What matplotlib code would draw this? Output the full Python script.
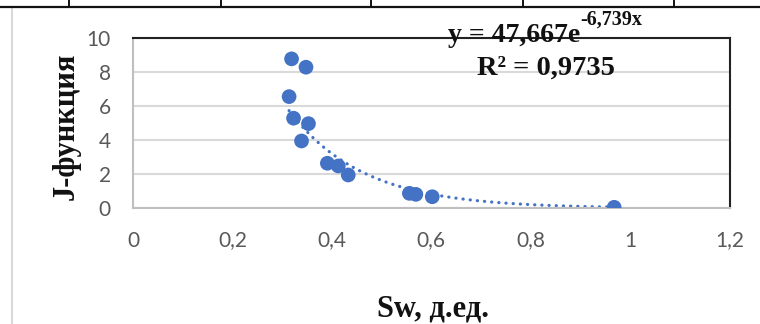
import numpy as np
import matplotlib
matplotlib.use("Agg")
import matplotlib.pyplot as plt
from matplotlib.lines import Line2D

# Data
sw = [0.319, 0.348, 0.314, 0.323, 0.353, 0.339, 0.391, 0.413, 0.433, 0.556, 0.569, 0.602, 0.968]
jfunc = [8.79, 8.30, 6.57, 5.30, 4.98, 3.96, 2.65, 2.49, 1.96, 0.88, 0.82, 0.68, 0.06]
trend_a = 47.667
trend_b = -6.739
x_ticks = [0, 0.2, 0.4, 0.6, 0.8, 1.0, 1.2]
x_tick_labels = ["0", "0,2", "0,4", "0,6", "0,8", "1", "1,2"]
y_ticks = [0, 2, 4, 6, 8, 10]
y_tick_labels = ["0", "2", "4", "6", "8", "10"]

W, H = 760, 324
fig = plt.figure(figsize=(W / 100, H / 100), dpi=100)

def fx(px):
    return px / W

def fy(py):
    return 1 - py / H

ax = fig.add_axes([fx(133), fy(208.3), fx(729.5) - fx(133), fy(38.3) - fy(208.3)])
ax.set_xlim(0, 1.2)
ax.set_ylim(0, 10)

blue = "#4472C4"
# trendline from the displayed equation
xs = np.linspace(min(sw), max(sw), 200)
ax.plot(xs, trend_a * np.exp(trend_b * xs), color=blue, lw=2.3,
        linestyle=(0, (0.05, 2.2)), dash_capstyle="round", zorder=2)
ax.scatter(sw, jfunc, s=112, color=blue, zorder=3, edgecolors="none")

ax.set_xticks(x_ticks)
ax.set_xticklabels(x_tick_labels)
ax.set_yticks(y_ticks)
ax.set_yticklabels(y_tick_labels)
ax.tick_params(length=0, labelsize=15, labelcolor="#595959")
ax.tick_params(axis="x", pad=16)
ax.tick_params(axis="y", pad=16)
for lab in ax.get_xticklabels() + ax.get_yticklabels():
    lab.set_family("Lato")

ax.grid(axis="y", color="#d9d9d9", lw=1.5, zorder=0)
ax.set_axisbelow(True)
for side in ["top", "right"]:
    ax.spines[side].set_color("#222222")
    ax.spines[side].set_linewidth(1.5)
for side in ["left", "bottom"]:
    ax.spines[side].set_color("#bfbfbf")
    ax.spines[side].set_linewidth(1.5)

serif = ["Liberation Serif", "DejaVu Serif"]

fig.text(fx(580), fy(41.7), "y = 47,667e", ha="right", va="baseline",
         family=serif, weight="bold", fontsize=20, color="#111111")
fig.text(fx(580), fy(25), "-6,739x", ha="left", va="baseline",
         family=serif, weight="bold", fontsize=14.5, color="#111111")
fig.text(fx(546), fy(75), "R² = 0,9735", ha="center", va="baseline",
         family=serif, weight="bold", fontsize=20.5, color="#111111")

fig.text(fx(66), fy(126), "J-функция", rotation=90, ha="center", va="center",
         family=serif, weight="bold", fontsize=22, color="#111111")
fig.text(fx(433), fy(309), "Sw, д.ед.", ha="center", va="center",
         family=serif, weight="bold", fontsize=22, color="#111111")

# chart area border and table edge above
fig.add_artist(Line2D([fx(11.7), fx(11.7)], [fy(9), fy(324)], color="#d9d9d9", lw=1.5))
fig.add_artist(Line2D([0, 1], [fy(7), fy(7)], color="#111111", lw=1.6))
for vx in [69, 221, 371, 523, 674]:
    fig.add_artist(Line2D([fx(vx), fx(vx)], [fy(0), fy(7)], color="#111111", lw=1.4))

fig.savefig("out.png", dpi=100)
